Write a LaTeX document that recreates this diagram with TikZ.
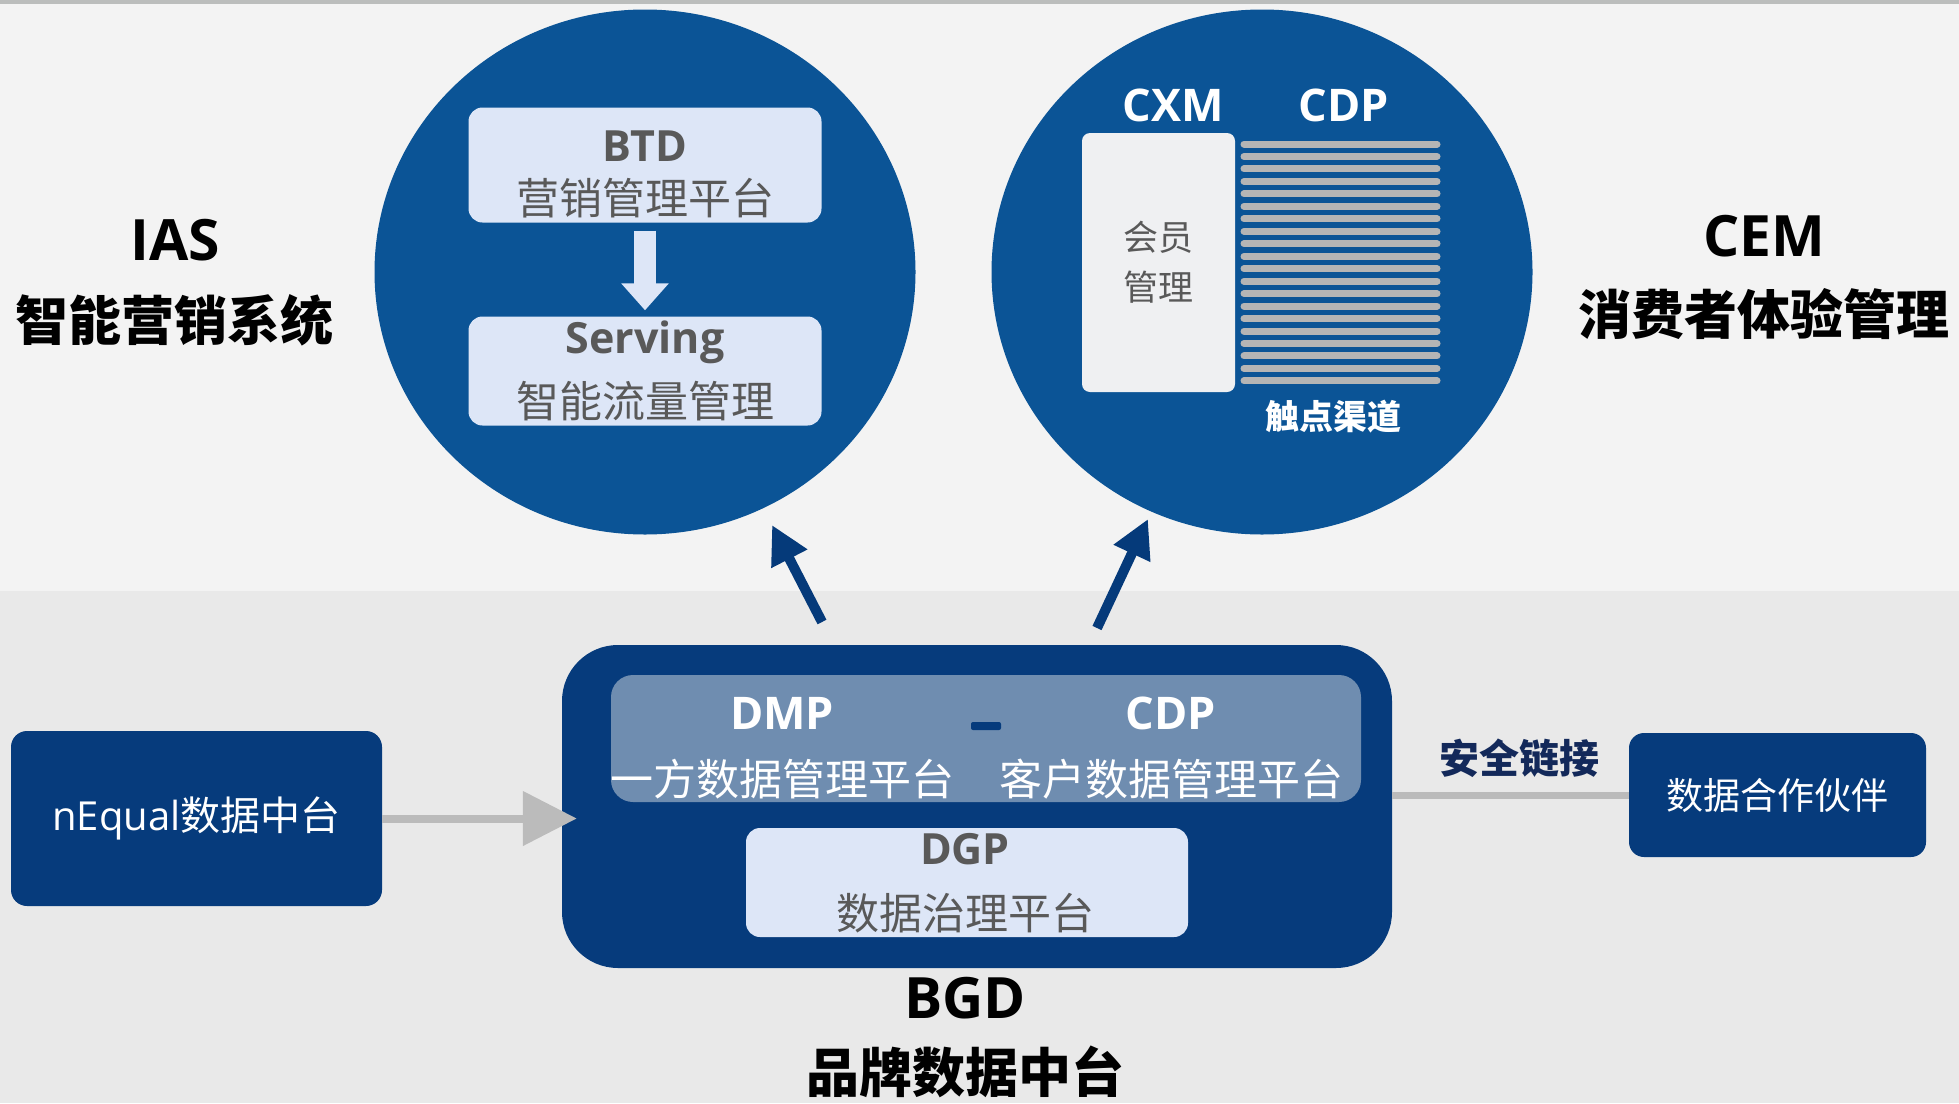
\documentclass[tikz,border=0pt]{standalone}
\usepackage{fontspec}
\setmainfont{Open Sans}
\newfontfamily\cjk{Noto Sans CJK SC}
\usetikzlibrary{shapes.geometric,positioning,arrows.meta}

\definecolor{ringblue}{HTML}{0B5496}
\definecolor{navy}{HTML}{063B7C}
\definecolor{arrownavy}{HTML}{053A7A}
\definecolor{steel}{HTML}{6F8DB0}
\definecolor{pale}{HTML}{DDE6F7}
\definecolor{member}{HTML}{EFF0F2}
\definecolor{stripe}{HTML}{B5B5B5}
\definecolor{txtgray}{HTML}{595959}
\definecolor{linkgray}{HTML}{BBBBBB}
\definecolor{linknavy}{HTML}{13295A}
\definecolor{bgtop}{HTML}{F3F3F3}
\definecolor{bgbot}{HTML}{E9E9E9}
\definecolor{topline}{HTML}{BBBDBC}

\begin{document}
\begin{tikzpicture}[
    x=1pt, y=-1pt,
    every node/.style={inner sep=0pt, align=center},
    ring/.style={ellipse, fill=ringblue, minimum width=541pt, minimum height=525pt},
    palebox/.style={rectangle, rounded corners=14pt, fill=pale},
    navybox/.style={rectangle, rounded corners=16pt, fill=navy, text=white},
    headline/.style={font=\fontsize{53}{#1}\selectfont\bfseries},
    boxtext/.style={font=\fontsize{43}{#1}\selectfont, text=txtgray},
    up/.style={draw=arrownavy, line width=10pt, -{Triangle[length=38pt,width=38pt]}},
    feed/.style={draw=linkgray, line width=8pt, -{Triangle[length=54pt,width=53pt]}}
]
\useasboundingbox (0,0) rectangle (1959,1103);
\fill[bgtop] (0,0) rectangle (1959,591);
\fill[bgbot] (0,591) rectangle (1959,1103);
\fill[topline] (0,0) rectangle (1959,4);

% upper part
\node[ring] (ias) at (645,272) {};
\node[ring] (cem) at (1262,272) {};
\node[headline=80] (iastxt) at (175,283) {{\fontsize{57}{80}\selectfont IAS}\\{\cjk 智能营销系统}};
\node[headline=78] (cemtxt) at (1764,277) {{\fontsize{57}{78}\selectfont CEM}\\{\cjk 消费者体验管理}};

\node[palebox, minimum width=353pt, minimum height=115pt] (btd) at (645,165) {};
\node[boxtext=53] (btdtxt) at (645,174) {{\bfseries BTD}\\{\cjk 营销管理平台}};
\node[palebox, minimum width=353pt, minimum height=109pt] (serving) at (645,371) {};
\node[boxtext=64] (servtxt) at (645,371) {{\bfseries Serving}\\{\cjk 智能流量管理}};
\draw[draw=pale, line width=22pt, -{Triangle[length=27pt,width=46pt]}]
    ([yshift=-8pt]btd.south) -- ([yshift=6pt]serving.north);

\node[font=\fontsize{45}{45}\selectfont\bfseries, text=white] (cxm) at (1173,105) {CXM};
\node[font=\fontsize{45}{45}\selectfont\bfseries, text=white] (cdp) at (1344,105) {CDP};
\node[rectangle, rounded corners=8pt, fill=member, minimum width=153pt, minimum height=259pt] (crm) at (1158.5,262.5) {};
\node[font=\fontsize{35}{50}\selectfont\cjk, text=txtgray] (crmtxt) at (crm) {会员\\管理};
\foreach \i in {0,...,19}
    \draw[stripe, line width=7pt, line cap=round] (1244,{144+12.47*\i}) -- (1437,{144+12.47*\i});
\node[font=\fontsize{34}{34}\selectfont\bfseries\cjk, text=white] (touch) at (1333,417) {触点渠道};

% lower part
\node[navybox, rounded corners=56pt, minimum width=830pt, minimum height=323pt] (bgd) at (977,806.5) {};
\node[rectangle, rounded corners=22pt, fill=steel, minimum width=750pt, minimum height=127pt] (dmpcdp) at (986,738.5) {};
\node[font=\fontsize{43}{66}\selectfont, text=white] (dmp) at (782,748) {{\bfseries\fontsize{45}{66}\selectfont DMP}\\{\cjk 一方数据管理平台}};
\node[font=\fontsize{43}{66}\selectfont, text=white] (cdp2) at (1171,748) {{\bfseries\fontsize{45}{66}\selectfont CDP}\\{\cjk 客户数据管理平台}};
\node[rectangle, rounded corners=2pt, fill=navy, minimum width=30pt, minimum height=8pt] (dash) at (986,726) {};
\node[palebox, minimum width=442pt, minimum height=109pt] (dgp) at (967,882.5) {};
\node[boxtext=65] (dgptxt) at (965,883) {{\bfseries DGP}\\{\cjk 数据治理平台}};
\node[headline=74] (bgdtxt) at (965,1038) {{\fontsize{57}{74}\selectfont BGD}\\{\cjk 品牌数据中台}};

\node[navybox, minimum width=371pt, minimum height=175pt, font=\fontsize{40}{40}\selectfont] (nequal) at (196.5,818.5) {nEqual{\cjk 数据中台}};
\node[navybox, rounded corners=15pt, minimum width=297pt, minimum height=124pt, font=\fontsize{37}{37}\selectfont\cjk] (partner) at (1777.5,795) {数据合作伙伴};

\path (nequal.east -| bgd.west) coordinate (feedend);
\draw[feed] (nequal.east) -- ([xshift=15pt]feedend);
\draw[draw=linkgray, line width=7pt] (partner.west -| bgd.east) --
    node[pos=0.54, above=14pt, font=\fontsize{40}{40}\selectfont\bfseries\cjk, text=linknavy] (link) {安全链接} (partner.west);

\coordinate (l0) at (822,622);
\coordinate (l1) at (772,525);
\coordinate (r0) at (1097,628);
\coordinate (r1) at (1148,519);
\draw[up] (l0) -- (l1);
\draw[up] (r0) -- (r1);
\end{tikzpicture}
\end{document}
